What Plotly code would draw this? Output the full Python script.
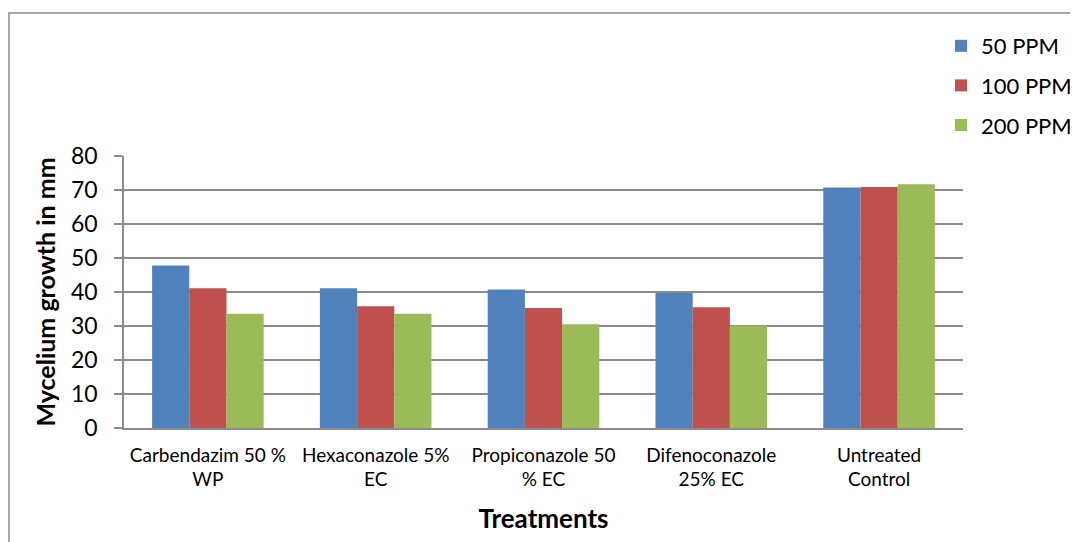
import plotly.graph_objects as go

categories = ["Carbendazim 50 %<br>WP", "Hexaconazole 5%<br>EC", "Propiconazole 50<br>% EC",
              "Difenoconazole<br>25% EC", "Untreated<br>Control"]
series_names = ["50 PPM", "100 PPM", "200 PPM"]
ppm50 = [47.8, 41.1, 40.7, 39.7, 70.7]
ppm100 = [41.1, 35.8, 35.3, 35.5, 70.9]
ppm200 = [33.6, 33.6, 30.5, 30.1, 71.7]
colors = ["#4F81BD", "#C0504D", "#9BBB59"]

FONT = "Lato"
fig = go.Figure()
for i, (name, vals) in enumerate(zip(series_names, [ppm50, ppm100, ppm200])):
    fig.add_trace(go.Bar(x=categories, y=vals, name=name, marker_color=colors[i],
                         marker_line_width=0, legendgroup=name))

# the page body adds an 8 px offset; compensate
OFF = 8
W, H = 1078 - OFF, 542 - OFF
L, T = 124 - OFF, 156 - OFF
R = W - (963 - OFF)
B = H - (428 - OFF)
pw, ph = W - L - R, H - T - B


def px(x):
    return (x - OFF - L) / pw


def py(y):
    return (H - B - (y - OFF)) / ph


fig.update_layout(
    width=W, height=H,
    margin=dict(l=L, r=R, t=T, b=B, autoexpand=False),
    paper_bgcolor="white", plot_bgcolor="white",
    barmode="group", bargap=0.335, bargroupgap=0,
    font=dict(family=FONT, color="black"),
    showlegend=True,
    legend=dict(x=px(941), y=py(25), xanchor="left", yanchor="top",
                font=dict(size=22, family=FONT), tracegroupgap=8,
                itemwidth=30, bgcolor="rgba(0,0,0,0)"),
    xaxis=dict(showline=True, linecolor="#8c8c8c", linewidth=1.5,
               tickfont=dict(size=19, family=FONT), ticks="", ticklabelstandoff=9,
               title=dict(text="<b>Treatments</b>", font=dict(size=26, family=FONT), standoff=21)),
    yaxis=dict(range=[0, 80], dtick=10, showgrid=True, gridcolor="#8c8c8c", gridwidth=1.5,
               showline=True, linecolor="#8c8c8c", linewidth=1.5,
               ticks="outside", ticklen=8, tickcolor="#8c8c8c", tickwidth=1.5,
               tickfont=dict(size=23, family=FONT), ticklabelstandoff=12,
               title=dict(text="<b>Mycelium growth in mm</b>", font=dict(size=25, family=FONT), standoff=8)),
    shapes=[dict(type="rect", xref="paper", yref="paper",
                 x0=px(9), x1=px(1095),
                 y0=py(560), y1=py(13),
                 line=dict(color="#8c8c8c", width=1.5), fillcolor="rgba(0,0,0,0)", layer="below")],
)

fig.write_html("out.html")
